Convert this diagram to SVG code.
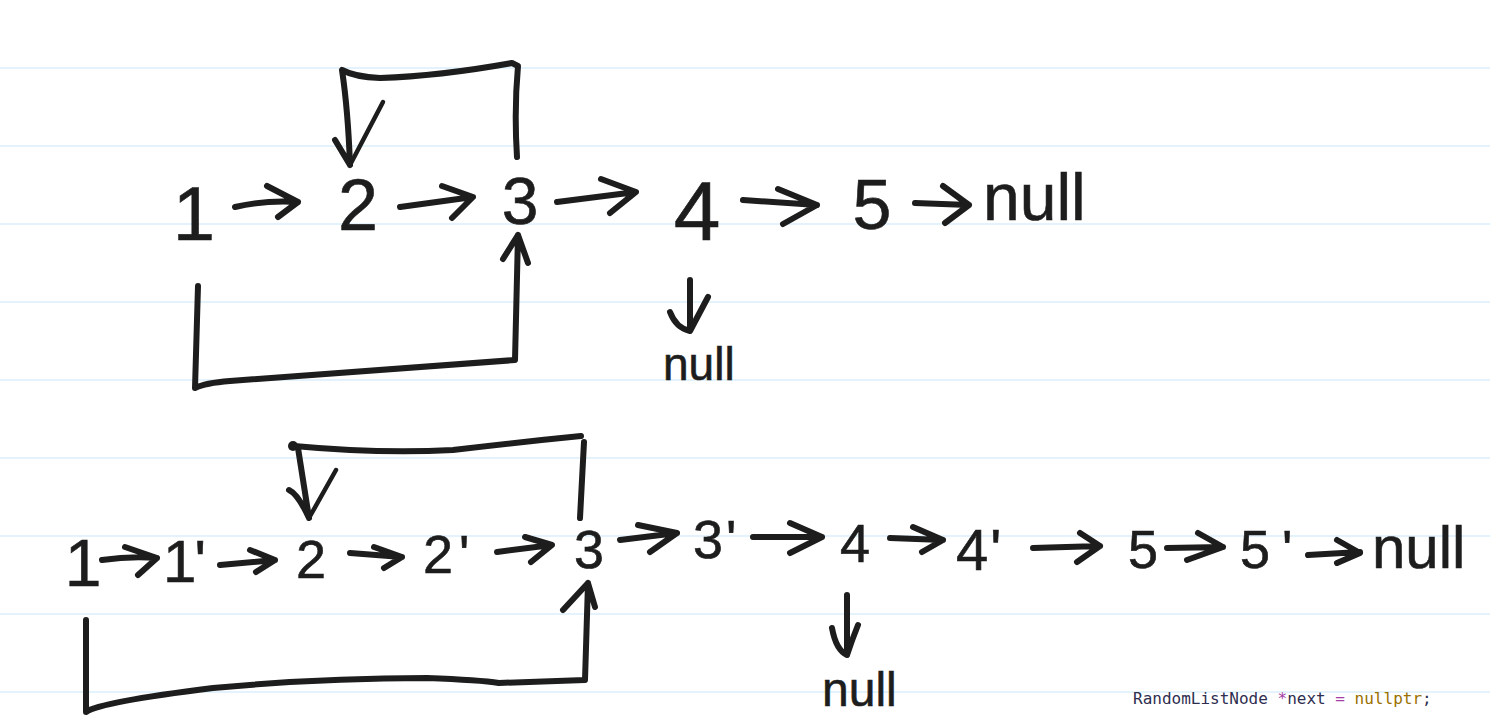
<svg xmlns="http://www.w3.org/2000/svg" width="1490" height="715" viewBox="0 0 1490 715">
<style>
.rule{stroke:#c9e8f8;stroke-width:1.2}
.pen{fill:none;stroke:#1d1d1d;stroke-width:6;stroke-linecap:round;stroke-linejoin:round}
.thin{stroke-width:4.5}
.hand{font-family:"Liberation Sans","DejaVu Sans",sans-serif;fill:#1d1d1d;stroke:#1d1d1d;stroke-width:0.6;text-anchor:middle}
.start{text-anchor:start}
.code{font-family:"DejaVu Sans Mono","Liberation Mono",monospace;font-size:16px;fill:#2e2e50}
</style>
<rect width="1490" height="715" fill="#ffffff"/>
<g id="ruled-paper">
<line class="rule" x1="0" y1="68" x2="1490" y2="68"/>
<line class="rule" x1="0" y1="146" x2="1490" y2="146"/>
<line class="rule" x1="0" y1="224" x2="1490" y2="224"/>
<line class="rule" x1="0" y1="302" x2="1490" y2="302"/>
<line class="rule" x1="0" y1="380" x2="1490" y2="380"/>
<line class="rule" x1="0" y1="458" x2="1490" y2="458"/>
<line class="rule" x1="0" y1="536" x2="1490" y2="536"/>
<line class="rule" x1="0" y1="614" x2="1490" y2="614"/>
<line class="rule" x1="0" y1="692" x2="1490" y2="692"/>
</g>

<g id="top-1"><text class="hand" x="194" y="240" font-size="76">1</text></g>
<g id="top-2"><text class="hand" x="358" y="230" font-size="72">2</text></g>
<g id="top-3"><text class="hand" x="520" y="224" font-size="66">3</text></g>
<g id="top-4"><text class="hand" x="697" y="240" font-size="84">4</text></g>
<g id="top-5"><text class="hand" x="872" y="229" font-size="70">5</text></g>
<g id="top-null"><text class="hand start" x="983" y="220" font-size="66">null</text></g>
<g id="top-null-4"><text class="hand start" x="663" y="380" font-size="46">null</text></g>

<g id="bot-1"><text class="hand" x="83" y="586" font-size="66">1</text></g>
<g id="bot-1p"><text class="hand start" x="163" y="582" font-size="60">1<tspan dx="-2">'</tspan></text></g>
<g id="bot-2"><text class="hand" x="311" y="578" font-size="54">2</text></g>
<g id="bot-2p"><text class="hand start" x="423" y="573" font-size="54">2<tspan dx="6">'</tspan></text></g>
<g id="bot-3"><text class="hand" x="589" y="568" font-size="54">3</text></g>
<g id="bot-3p"><text class="hand start" x="693" y="558" font-size="54">3<tspan dx="3">'</tspan></text></g>
<g id="bot-4"><text class="hand" x="855" y="562" font-size="54">4</text></g>
<g id="bot-4p"><text class="hand start" x="956" y="570" font-size="58">4<tspan dx="2">'</tspan></text></g>
<g id="bot-5"><text class="hand" x="1143" y="568" font-size="54">5</text></g>
<g id="bot-5p"><text class="hand start" x="1240" y="568" font-size="54">5<tspan dx="12">'</tspan></text></g>
<g id="bot-null"><text class="hand start" x="1372" y="568" font-size="60">null</text></g>
<g id="bot-null-4"><text class="hand start" x="822" y="706" font-size="48">null</text></g>

<g id="code-line"><text class="code" x="1133" y="704" xml:space="preserve">RandomListNode <tspan fill="#a63ea6">*</tspan>next <tspan fill="#a63ea6">=</tspan> <tspan fill="#9a7000">nullptr</tspan>;</text></g>

<g id="connectors">
<path class="pen" d="M235,207 Q265,200 298,202 M267,186 L298,202 L278,217"/>
<path class="pen" d="M400,207 L473,197 M442,186 L473,197 L452,218"/>
<path class="pen" d="M557,202 L636,192 M601,179 L636,192 L610,213"/>
<path class="pen" d="M743,200 L817,205 M778,189 L817,205 L783,224"/>
<path class="pen" d="M915,203 L969,205 M943,186 L969,205 L945,223"/>
<path class="pen" d="M690,280 L690,330 M670,312 Q676,328 690,331 L708,297"/>
<path class="pen" d="M517,157 Q514,110 518,66 L512,63 Q440,76 380,78 Q355,77 342,70 Q348,110 350,165 M335,140 L350,165"/>
<path class="pen thin" d="M350,165 L383,102"/>
<path class="pen" d="M198,286 L195,388 Q205,383 230,381 L515,360 L518,235 M503,259 L518,235 L528,263"/>
<path class="pen" d="M102,560 Q130,556 157,558 M125,547 L157,558 L138,575"/>
<path class="pen" d="M220,565 L275,560 M250,550 L275,560 L256,572"/>
<path class="pen" d="M350,553 L402,557 M374,547 L402,557 L384,568"/>
<path class="pen" d="M497,552 L552,545 M525,537 L552,545 L531,562"/>
<path class="pen" d="M620,540 L677,533 M638,525 L677,533 L650,552"/>
<path class="pen" d="M753,537 L822,537 M790,523 L822,537 L790,553" stroke-width="7"/>
<path class="pen" d="M890,538 L943,540 M913,527 L943,540 L922,552"/>
<path class="pen" d="M1033,548 L1100,546 M1080,533 L1100,546 L1077,562"/>
<path class="pen" d="M1167,548 L1223,547 M1198,533 L1223,547 L1187,560"/>
<path class="pen" d="M1308,555 L1360,552 M1337,540 L1360,553 L1337,563"/>
<path class="pen" d="M847,595 L847,655 M832,628 Q836,650 847,655 Q852,640 858,625"/>
<circle cx="293" cy="446" r="5" fill="#1d1d1d"/>
<path class="pen" d="M294,446 Q380,454 453,450 Q520,442 581,436"/>
<path class="pen" d="M298,448 L309,518 M289,490 Q298,494 309,518"/>
<path class="pen thin" d="M309,518 L336,470"/>
<path class="pen" d="M584,442 L580,518"/>
<path class="pen" d="M86,620 L86,712 Q100,702 213,688 Q320,678 427,678 Q480,680 499,683 L585,680 L588,583 M563,610 L588,583 L595,607"/>
</g>
</svg>
